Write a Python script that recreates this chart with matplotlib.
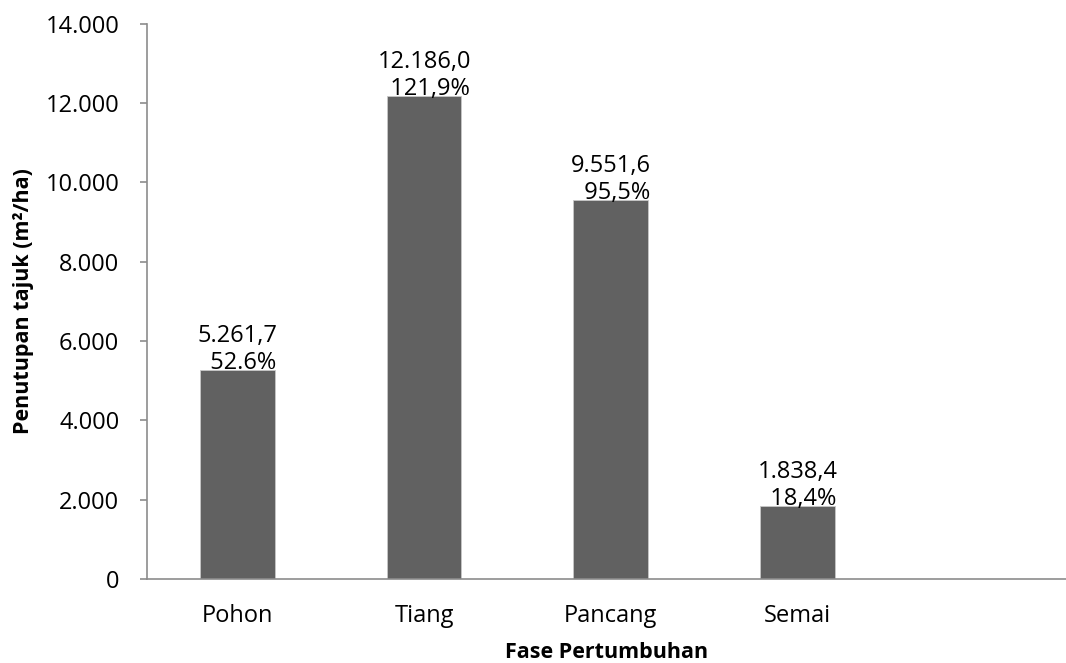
import matplotlib.pyplot as plt
from matplotlib.ticker import FuncFormatter

plt.rcParams['font.family'] = ['Open Sans', 'DejaVu Sans']

# Canopy cover per growth phase
phases = ['Pohon', 'Tiang', 'Pancang', 'Semai']
cover = [5261.7, 12186.0, 9551.6, 1838.4]
pct_labels = ['52.6%', '121,9%', '95,5%', '18,4%']


def id_number(v, decimals=1):
    # Indonesian style: dot for thousands, comma for decimals
    s = f'{v:,.{decimals}f}'
    return s.replace(',', '#').replace('.', ',').replace('#', '.')


fig = plt.figure(figsize=(10.66, 6.63), dpi=100)
ax = fig.add_axes([0.138, 0.127, 0.862, 0.837])

x = list(range(len(phases)))
bars = ax.bar(x, cover, width=0.4, color='#616161', edgecolor='#c8c8c8', linewidth=0.6)

for xi, v, p in zip(x, cover, pct_labels):
    ax.annotate(id_number(v) + '\n  ' + p, (xi, v), xytext=(0, -3.5),
                textcoords='offset points', ha='center', va='bottom',
                multialignment='center', fontsize=17, linespacing=1.15)

ax.set_xlim(-0.485, 4.44)
ax.set_ylim(0, 14000)
ax.set_yticks(range(0, 14001, 2000))
ax.yaxis.set_major_formatter(FuncFormatter(lambda v, pos: id_number(v, 0)))
ax.set_xticks(x)
ax.set_xticklabels(phases)

for side in ['top', 'right']:
    ax.spines[side].set_visible(False)
for side in ['left', 'bottom']:
    ax.spines[side].set_color('#8c8c8c')
    ax.spines[side].set_linewidth(1.2)

ax.tick_params(axis='y', length=5, width=1.2, color='#8c8c8c', pad=15, labelsize=17)
ax.tick_params(axis='x', length=0, pad=18, labelsize=17)

ax.set_xlabel('Fase Pertumbuhan', fontsize=15.5, fontweight='bold', labelpad=10)
ax.set_ylabel('Penutupan tajuk (m²/ha)', fontsize=15.5, fontweight='bold', labelpad=8)

fig.savefig('out.png', dpi=100)
